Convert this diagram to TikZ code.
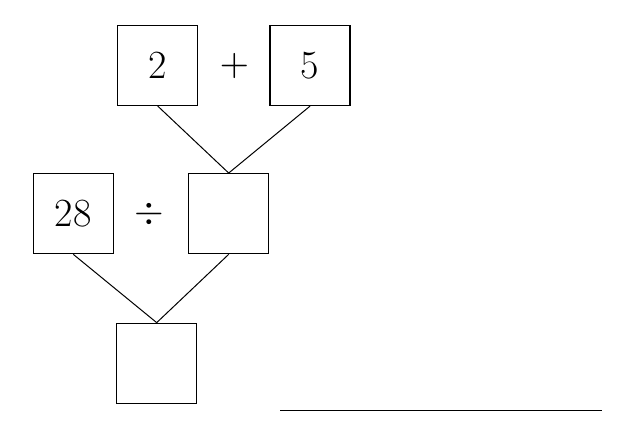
\documentclass[tikz,border=0pt]{standalone}
\usepackage{graphicx}
\begin{document}
\begin{tikzpicture}[x=1pt,y=1pt,
  numbox/.style={draw,line width=1.3pt,minimum size=80pt,inner sep=0pt,font=\fontsize{40}{44}\selectfont},
  optext/.style={inner sep=0pt},
  link/.style={line width=1pt}]
\useasboundingbox (0,0) rectangle (619,421);
\node[numbox] (a) at (157.8,355.5) {2};
\node[optext] (plus) at (234.3,355) {\scalebox{3.8}{$+$}};
\node[numbox] (b) at (310,355.5) {5};
\node[numbox] (c) at (73.3,207.3) {28};
\node[optext] (div) at (149.3,206.7) {\scalebox{3.8}{$\div$}};
\node[numbox] (d) at (228.7,207.3) {};
\node[numbox] (e) at (156.7,57.7) {};
\draw[link] (a.south) -- (d.north);
\draw[link] (b.south) -- (d.north);
\draw[link] (c.south) -- (e.north);
\draw[link] (d.south) -- (e.north);
\coordinate (l1) at (280,11);
\coordinate (l2) at (601.7,11);
\draw[line width=1pt] (l1) -- (l2);
\end{tikzpicture}
\end{document}
